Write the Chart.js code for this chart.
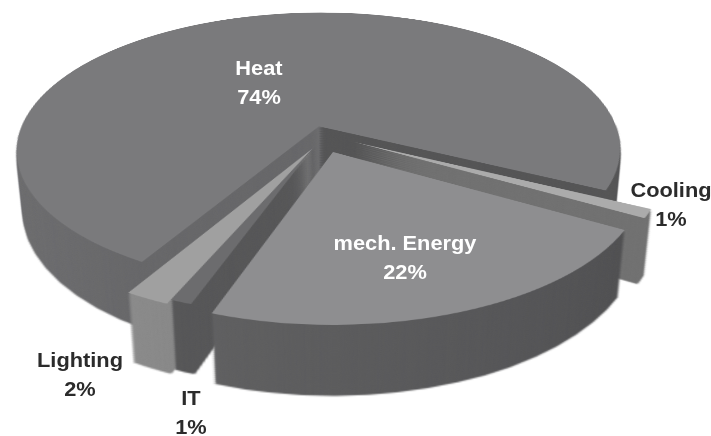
<!DOCTYPE html>
<html>
<head>
<meta charset="utf-8">
<script src="https://cdn.jsdelivr.net/npm/chart.js@4.4.1/dist/chart.umd.min.js"></script>
<style>
html, body { margin: 0; padding: 0; background: #ffffff; }
#stage { position: relative; width: 711px; height: 436px; overflow: hidden; background: #ffffff; }
#stage canvas { position: absolute; transform-origin: 50% 50%; }
.lbl { position: absolute; font-family: "Liberation Sans", Arial, sans-serif; font-weight: bold;
       font-size: 20px; line-height: 29px; text-align: center; white-space: nowrap; }
</style>
</head>
<body>
<div id="stage"></div>
<script>
// ---- data ----
const categories = ['Cooling', 'mech. Energy', 'IT', 'Lighting', 'Heat'];
const shares = [1, 22, 1, 2, 74];

// ---- styles ----
const topColors  = ['#ababab', '#8e8e90', '#6c6c6e', '#a0a0a0', '#7a7a7c'];
const sideColors = ['#939393', '#68686a', '#5e5e60', '#949494', '#6e6e70'];
// explode: [distance in pie-plane px, direction offset from slice mid-angle in degrees]
const explodeVectors = [[30.7, -72.4], [0, 0], [23, 106], [22, 83.5], [59, 2.5]];
// label anchor: [radius factor, angle offset in degrees] around the exploded slice tip
const labelPlacement = [[1.05, -4.5], [0.69, 3], [1.459, -9.6], [1.377, -1.6], [0.405, -15.5]];
const labelInside = [false, true, false, false, true];
const SHADE = [[0, 0.76], [30, 0.77], [60, 0.83], [100, 0.9], [140, 0.97], [180, 1.0], [300, 1.0], [360, 0.76]];
const VIEW = { cx: 333, cy: 152, radius: 307, depth: 72, step: 2, persp: 1537, tilt: 62.4, size: 820, rotation: 116.4 };

const stage = document.getElementById('stage');
const S = VIEW.size;

function shadeHex(hex, f) {
  const n = parseInt(hex.slice(1), 16);
  const r = Math.round(((n >> 16) & 255) * f), g = Math.round(((n >> 8) & 255) * f), b = Math.round((n & 255) * f);
  return 'rgb(' + r + ',' + g + ',' + b + ')';
}
function sideFill(c) {
  const i = c.dataIndex;
  if (i === undefined) return '#666666';
  const ctx = c.chart.ctx;
  if (!ctx.createConicGradient) return sideColors[i];
  const g = ctx.createConicGradient(0, S / 2, S / 2);
  SHADE.forEach(([deg, f]) => g.addColorStop(deg / 360, shadeHex(sideColors[i], f)));
  return g;
}
function explodeShift(arc, i) {
  const mid = (arc.startAngle + arc.endAngle) / 2;
  const [dist, dev] = explodeVectors[i] || [0, 0];
  const dir = mid + dev * Math.PI / 180;
  return [Math.cos(dir) * dist, Math.sin(dir) * dist];
}

const explodePlugin = {
  id: 'explode',
  beforeDatasetDraw(chart, args) {
    const ctx = chart.ctx;
    args.meta.data.forEach((arc, i) => {
      const [dx, dy] = explodeShift(arc, i);
      ctx.save();
      ctx.translate(dx, dy);
      arc.draw(ctx);
      ctx.restore();
    });
    return false;
  }
};

function makeLayer(z, isTop) {
  const cv = document.createElement('canvas');
  cv.width = S; cv.height = S;
  cv.style.left = (VIEW.cx - S / 2) + 'px';
  cv.style.top = (VIEW.cy - S / 2) + 'px';
  cv.style.width = S + 'px';
  cv.style.height = S + 'px';
  cv.style.transform = 'perspective(' + VIEW.persp + 'px) rotateX(' + VIEW.tilt + 'deg) translateZ(' + (-z) + 'px)';
  stage.appendChild(cv);
  return new Chart(cv, {
    type: 'pie',
    data: {
      labels: categories,
      datasets: [{ data: shares, backgroundColor: isTop ? topColors : sideFill, borderWidth: 0 }]
    },
    options: {
      responsive: false, animation: false, events: [],
      devicePixelRatio: isTop ? 1 : 0.5,
      radius: VIEW.radius, rotation: VIEW.rotation,
      layout: { padding: 0 },
      plugins: { legend: { display: false }, tooltip: { enabled: false } }
    },
    plugins: [explodePlugin]
  });
}

for (let z = VIEW.depth; z > 0; z -= VIEW.step) makeLayer(z, false);
const topChart = makeLayer(0, true);

function project(px, py, z) {
  const a = VIEW.tilt * Math.PI / 180, c = Math.cos(a), s = Math.sin(a);
  const y1 = py * c + z * s, z1 = py * s - z * c;
  const k = VIEW.persp / (VIEW.persp - z1);
  return [VIEW.cx + px * k, VIEW.cy + y1 * k];
}

const arcs = topChart.getDatasetMeta(0).data;
arcs.forEach((arc, i) => {
  const mid = (arc.startAngle + arc.endAngle) / 2;
  const [ex, ey] = explodeShift(arc, i);
  const [rf, da] = labelPlacement[i];
  const ang = mid + da * Math.PI / 180;
  const r = rf * arc.outerRadius;
  const [x, y] = project(ex + Math.cos(ang) * r, ey + Math.sin(ang) * r, 0);
  const d = document.createElement('div');
  d.className = 'lbl';
  d.style.color = labelInside[i] ? '#ffffff' : '#2b2b2b';
  d.innerHTML = categories[i] + '<br>' + shares[i] + '%';
  d.style.left = x + 'px';
  d.style.top = y + 'px';
  d.style.transform = 'translate(-50%, -50%) scaleX(1.09)';
  stage.appendChild(d);
});
</script>
</body>
</html>
